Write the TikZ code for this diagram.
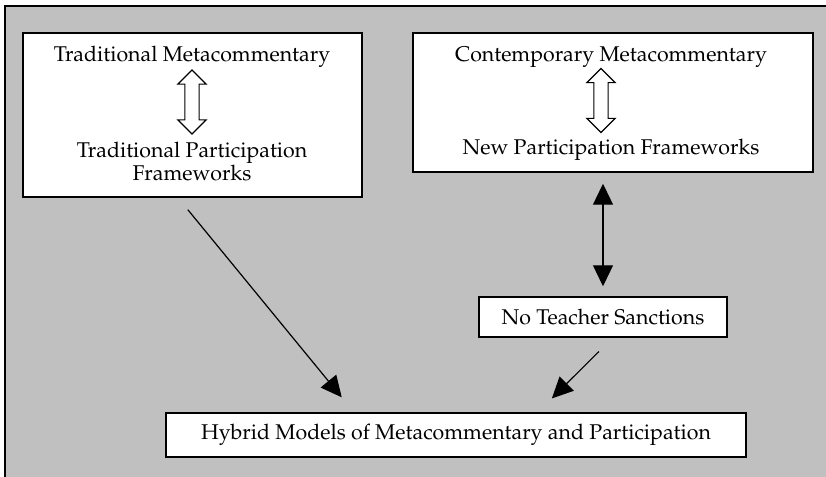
\documentclass[tikz,border=0pt]{standalone}
\usepackage[T1]{fontenc}
\usepackage{mathpazo}
\usetikzlibrary{arrows.meta,shapes.arrows,calc}
\definecolor{panel}{RGB}{192,192,192}

\begin{document}
\begin{tikzpicture}[x=0.75pt,y=-0.75pt,
    box/.style={draw,fill=white,line width=1.1pt,inner sep=0pt},
    lbl/.style={font=\fontsize{16}{17.25}\selectfont,align=center,inner sep=0pt},
    hollow/.style={draw,fill=white,line width=0.9pt,double arrow,rotate=90,
      minimum height=48pt,minimum width=20.25pt,inner sep=4.9pt,
      double arrow head extend=5.25pt},
    conn/.style={line width=0.9pt,-{Triangle[length=15.75pt,width=15pt]}}]
  \useasboundingbox (0,0) rectangle (826,477);
  \fill[panel] (5,6) rectangle (830,480);
  \draw[line width=1.3pt] (5,480) -- (5,6) -- (830,6);

  % upper boxes
  \node[box,minimum width=254.25pt,minimum height=123pt] (trad) at (192.5,115) {};
  \node[lbl,anchor=base] (tradmeta) at (192,62) {Traditional Metacommentary};
  \node[lbl] (tradpart) at (192,161.5) {Traditional Participation\\Frameworks};
  \node[hollow] (tradarr) at (192,102) {};
  \node[box,minimum width=300pt,minimum height=104.25pt] (cont) at (613,102.5) {};
  \node[lbl,anchor=base] (contmeta) at (611,62) {Contemporary Metacommentary};
  \node[lbl,anchor=base] (newpart) at (611,155) {New Participation Frameworks};
  \node[hollow] (contarr) at (601,100.5) {};

  % lower boxes
  \node[box,lbl,minimum width=186pt,minimum height=30pt] (sanct) at (603,317) {No Teacher Sanctions};
  \node[box,lbl,minimum width=435pt,minimum height=33pt] (hybrid) at (456,435) {Hybrid Models of Metacommentary and Participation};

  \draw[conn,shorten <=11.6pt,shorten >=14.5pt] ($(trad.south)+(-14.5,0)$) -- ($(hybrid.north)+(-102,0)$);
  \draw[line width=0.9pt,{Triangle[length=15.75pt,width=15pt]}-{Triangle[length=15.75pt,width=15pt]},shorten <=7.5pt,shorten >=8.25pt] (sanct.north) -- (sanct.north |- cont.south);
  \draw[conn,shorten <=14.7pt,shorten >=14.7pt] ($(sanct.south)+(9.7,0)$) -- ($(hybrid.north)+(82,0)$);
\end{tikzpicture}
\end{document}
